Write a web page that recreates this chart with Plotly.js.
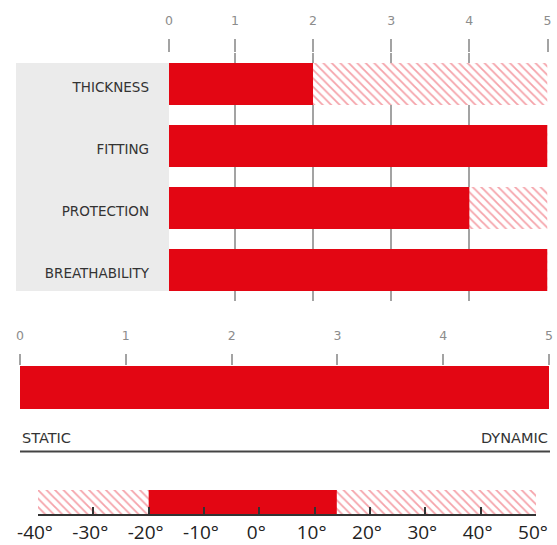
<!DOCTYPE html>
<html>
<head>
<meta charset="utf-8">
<script src="https://cdn.plot.ly/plotly-3.0.1.min.js"></script>
<style>html,body{margin:0;padding:0;background:#fff;}#chart{width:557px;height:545px;}</style>
</head>
<body>
<div id="chart"></div>
<script>
// ---- data ----
var categories = ['THICKNESS', 'FITTING', 'PROTECTION', 'BREATHABILITY'];
var ratings = [2, 5, 4, 5];
var ratingMax = 5;
var ratingTicks = [0, 1, 2, 3, 4, 5];
var ratingTickText = ['0', '1', '2', '3', '4', '5'];

var activityValue = 5;
var activityLabels = ['STATIC', 'DYNAMIC'];

var tempMin = -40;
var tempMax = 50;
var tempLow = -20;
var tempHigh = 14;
var tempTicks = [-40, -30, -20, -10, 0, 10, 20, 30, 40, 50];
var tempTickText = tempTicks.map(function (t) { return t + '°'; });

// ---- helpers (pixel -> paper) ----
var W = 557, H = 545;
function px(v) { return v / W; }
function py(v) { return 1 - v / H; }

var RED = '#e30613';
var hatch = { shape: '\\', fgcolor: '#f5a3aa', bgcolor: '#ffffff', size: 6, solidity: 0.3, fillmode: 'replace' };
var FONT = 'Open Sans, sans-serif';
var LFONT = 'DejaVu Sans, sans-serif';

// top panel: the scale's zero sits left of the plotting area (hidden by label column)
var zeroPx = 156.7, unitPx = 78.15, leftPx = 169;
var rangeStart = (leftPx - zeroPx) / unitPx;
var topTickVals = ratingTicks.map(function (t) { return t === 0 ? rangeStart : t; });

var traces = [
  { type: 'bar', orientation: 'h', y: categories, x: categories.map(function () { return ratingMax; }),
    xaxis: 'x', yaxis: 'y', width: 0.677, marker: { color: '#ffffff', pattern: hatch, line: { width: 0 } }, hoverinfo: 'skip' },
  { type: 'bar', orientation: 'h', y: categories, x: ratings,
    xaxis: 'x', yaxis: 'y', width: 0.677, marker: { color: RED, line: { width: 0 } }, hoverinfo: 'skip' },

  { type: 'bar', orientation: 'h', y: ['activity'], x: [ratingMax],
    xaxis: 'x2', yaxis: 'y2', width: 1, marker: { color: '#ffffff', pattern: hatch, line: { width: 0 } }, hoverinfo: 'skip' },
  { type: 'bar', orientation: 'h', y: ['activity'], x: [activityValue],
    xaxis: 'x2', yaxis: 'y2', width: 1, marker: { color: RED, line: { width: 0 } }, hoverinfo: 'skip' },

  { type: 'bar', orientation: 'h', y: ['temp'], base: [tempMin], x: [tempMax - tempMin],
    xaxis: 'x3', yaxis: 'y3', width: 1, marker: { color: '#ffffff', pattern: hatch, line: { width: 0 } }, hoverinfo: 'skip' },
  { type: 'bar', orientation: 'h', y: ['temp'], base: [tempLow], x: [tempHigh - tempLow],
    xaxis: 'x3', yaxis: 'y3', width: 1, marker: { color: RED, line: { width: 0 } }, hoverinfo: 'skip' }
];

var layout = {
  width: W, height: H,
  margin: { l: 0, r: 0, t: 0, b: 0 },
  paper_bgcolor: '#ffffff', plot_bgcolor: 'rgba(0,0,0,0)',
  showlegend: false, barmode: 'overlay', hovermode: false,
  font: { family: FONT },
  xaxis: {
    domain: [px(leftPx), px(547.5)], range: [rangeStart, ratingMax], anchor: 'y', side: 'top',
    tickvals: topTickVals, ticktext: ratingTickText,
    ticks: 'outside', ticklen: 13, tickwidth: 2, tickcolor: '#a3a3a3',
    showgrid: true, gridcolor: '#a3a3a3', gridwidth: 2, zeroline: false, showline: false,
    tickfont: { size: 12.5, color: '#8c8c8c', family: LFONT }, ticklabelstandoff: 9, fixedrange: true
  },
  yaxis: {
    domain: [py(301), py(53)], anchor: 'x', type: 'category',
    categoryorder: 'array', categoryarray: categories, autorange: 'reversed',
    ticks: '', showgrid: false, zeroline: false, showline: false,
    tickfont: { size: 13.5, color: '#333333', family: LFONT }, ticklabelstandoff: 19, ticklabelshift: -3, fixedrange: true
  },
  xaxis2: {
    domain: [px(20), px(549)], range: [0, ratingMax], anchor: 'y2', side: 'top',
    tickvals: ratingTicks, ticktext: ratingTickText,
    ticks: 'outside', ticklen: 11, tickwidth: 2, tickcolor: '#a3a3a3',
    showgrid: false, zeroline: false, showline: false,
    tickfont: { size: 12.5, color: '#8c8c8c', family: LFONT }, ticklabelstandoff: 9, fixedrange: true
  },
  yaxis2: {
    domain: [py(409), py(366)], anchor: 'x2', range: [-0.5, 0.5],
    showticklabels: false, ticks: '', showgrid: false, zeroline: false, showline: false, fixedrange: true
  },
  xaxis3: {
    domain: [px(38), px(536)], range: [tempMin, tempMax], anchor: 'y3', side: 'bottom',
    tickvals: tempTicks, ticktext: tempTickText,
    ticks: 'inside', ticklen: 7, tickwidth: 2, tickcolor: '#333333',
    showline: true, linecolor: '#333333', linewidth: 2,
    showgrid: false, zeroline: false,
    tickfont: { size: 19, color: '#222222', family: FONT }, ticklabelstandoff: 0, ticklabelshift: -3, fixedrange: true
  },
  yaxis3: {
    domain: [py(514), py(490)], anchor: 'x3', range: [-0.5, 0.5],
    showticklabels: false, ticks: '', showgrid: false, zeroline: false, showline: false, fixedrange: true
  },
  shapes: [
    { type: 'rect', xref: 'paper', yref: 'paper', x0: px(16), x1: px(leftPx), y0: py(291), y1: py(63),
      fillcolor: '#ebebeb', line: { width: 0 }, layer: 'below' },
    { type: 'line', xref: 'paper', yref: 'paper', x0: px(20), x1: px(550), y0: py(451.5), y1: py(451.5),
      line: { color: '#444444', width: 2 } }
  ],
  annotations: [
    { xref: 'paper', yref: 'paper', x: px(20), y: py(438), text: activityLabels[0], showarrow: false,
      xanchor: 'left', yanchor: 'middle', font: { size: 14.5, color: '#333333', family: LFONT } },
    { xref: 'paper', yref: 'paper', x: px(550), y: py(438), text: activityLabels[1], showarrow: false,
      xanchor: 'right', yanchor: 'middle', font: { size: 14.5, color: '#333333', family: LFONT } }
  ]
};

Plotly.newPlot('chart', traces, layout, { staticPlot: true, displayModeBar: false });
</script>
</body>
</html>
